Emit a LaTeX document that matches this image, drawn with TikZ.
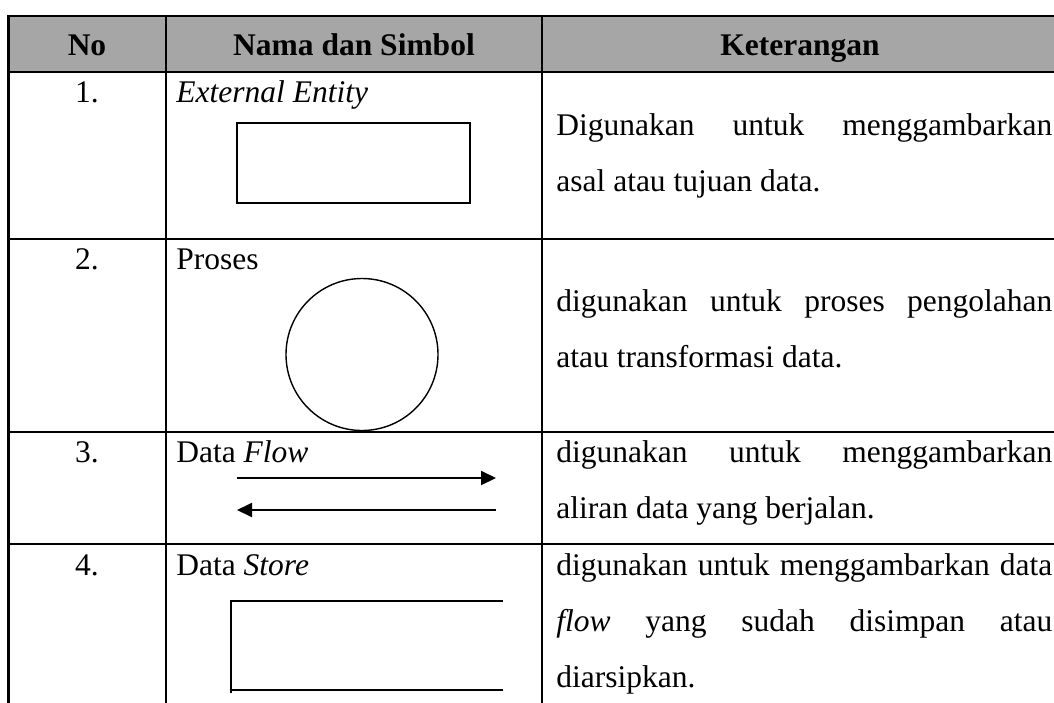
\documentclass[tikz,border=0pt]{standalone}
\usepackage{fontspec}
\setmainfont{Liberation Serif}
\usepackage{tikz}
\usetikzlibrary{arrows.meta}
\definecolor{abuheader}{HTML}{A6A6A6}
\hyphenpenalty=10000
\exhyphenpenalty=10000

\begin{document}
\begin{tikzpicture}[x=0.5pt, y=-0.5pt,
  garis/.style={line width=1.1pt, line cap=rect},
  simbol/.style={line width=0.7pt},
  teks/.style={font=\fontsize{15.75}{28}\selectfont, inner sep=0pt},
  judul/.style={font=\fontsize{15.75}{28}\selectfont\bfseries, inner sep=0pt, anchor=base},
  ket/.style={teks, text width=248pt, align=justify, anchor=base west}]
\useasboundingbox (0,0) rectangle (1054,702);

% Baris judul (abu-abu)
\fill[abuheader] (8.5,16) rectangle (1060,72);

% Garis tabel
\foreach \y in {16,72,239,432,544}
  \draw[garis] (8.5,\y) -- (1060,\y);
\foreach \x in {8.5,166,542}
  \draw[garis] (\x,16) -- (\x,702);

% Judul kolom
\node[judul] (hNo) at (87,55) {No};
\node[judul] (hNama) at (354,55) {Nama dan Simbol};
\node[judul] (hKet) at (800,55) {Keterangan};

% Nomor
\node[teks, anchor=base] (no1) at (87,102) {1.};
\node[teks, anchor=base] (no2) at (87,269) {2.};
\node[teks, anchor=base] (no3) at (87,462) {3.};
\node[teks, anchor=base] (no4) at (87,575) {4.};

% Nama simbol
\node[teks, anchor=base west] (nama1) at (176,102) {\textit{External Entity}};
\node[teks, anchor=base west] (nama2) at (176,269) {Proses};
\node[teks, anchor=base west] (nama3) at (176,462) {Data \textit{Flow}};
\node[teks, anchor=base west] (nama4) at (176,575) {Data \textit{Store}};

% Simbol 1: external entity
\node[simbol, draw, minimum width=116.5pt, minimum height=40pt, inner sep=0pt] (entitas) at (353.5,163) {};

% Simbol 2: proses
\node[simbol, draw, circle, minimum size=76pt, inner sep=0pt] (proses) at (362,354.5) {};

% Simbol 3: data flow
\coordinate (alirA1) at (237,478);
\coordinate (alirA2) at (496,478);
\coordinate (alirB1) at (496,510);
\coordinate (alirB2) at (237,510);
\draw[line width=1pt, -{Triangle[length=7.5pt, width=7pt]}] (alirA1) -- (alirA2);
\draw[line width=1pt, -{Triangle[length=7.5pt, width=7pt]}] (alirB1) -- (alirB2);

% Simbol 4: data store
\draw[simbol] (503,601) -| (231,693);
\draw[simbol] (230,690) -- (503,690);

% Keterangan
\node[ket] (ket1) at (556,135) {Digunakan untuk menggambarkan\linebreak asal atau tujuan data.};
\node[ket] (ket2) at (556,311) {digunakan untuk proses pengolahan\linebreak atau transformasi data.};
\node[ket] (ket3) at (556,462) {digunakan untuk menggambarkan\linebreak aliran data yang berjalan.};
\node[ket] (ket4) at (556,575) {digunakan untuk menggambarkan data\linebreak \textit{flow} yang sudah disimpan atau\linebreak diarsipkan.};
\end{tikzpicture}
\end{document}
